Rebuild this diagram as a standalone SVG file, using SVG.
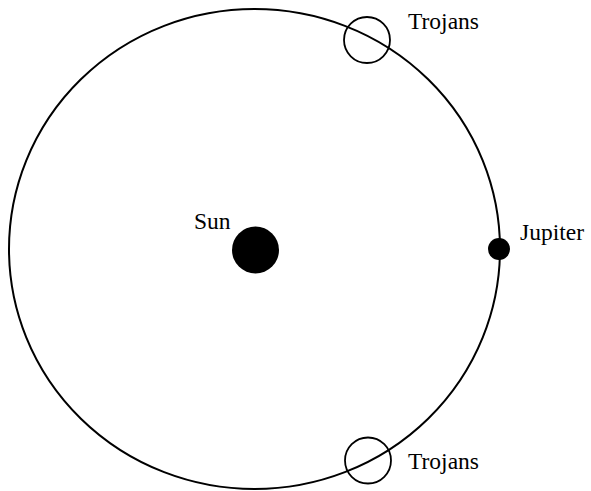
<svg xmlns="http://www.w3.org/2000/svg" width="591" height="491" viewBox="0 0 591 491">
<style>
.orbit{fill:none;stroke:#000;stroke-width:2}
.ring{fill:none;stroke:#000;stroke-width:1.8}
.body{fill:#000}
.lbl{font-family:"Liberation Serif","Times New Roman",serif;font-size:23.5px;fill:#000}
</style>
<rect width="591" height="491" fill="#fff"/>
<g id="connectors">
<ellipse id="orbit" class="orbit" cx="254.5" cy="249" rx="245.5" ry="240"/>
</g>
<g id="sun">
<circle class="body" cx="255.5" cy="250" r="23.5"/>
<text class="lbl" x="194" y="229">Sun</text>
</g>
<g id="jupiter">
<circle class="body" cx="499" cy="249" r="11"/>
<text class="lbl" x="520" y="240">Jupiter</text>
</g>
<g id="trojans-top">
<circle class="ring" cx="367" cy="40" r="23"/>
<text class="lbl" x="408" y="29">Trojans</text>
</g>
<g id="trojans-bottom">
<circle class="ring" cx="368" cy="460.5" r="23"/>
<text class="lbl" x="408" y="469">Trojans</text>
</g>
</svg>
